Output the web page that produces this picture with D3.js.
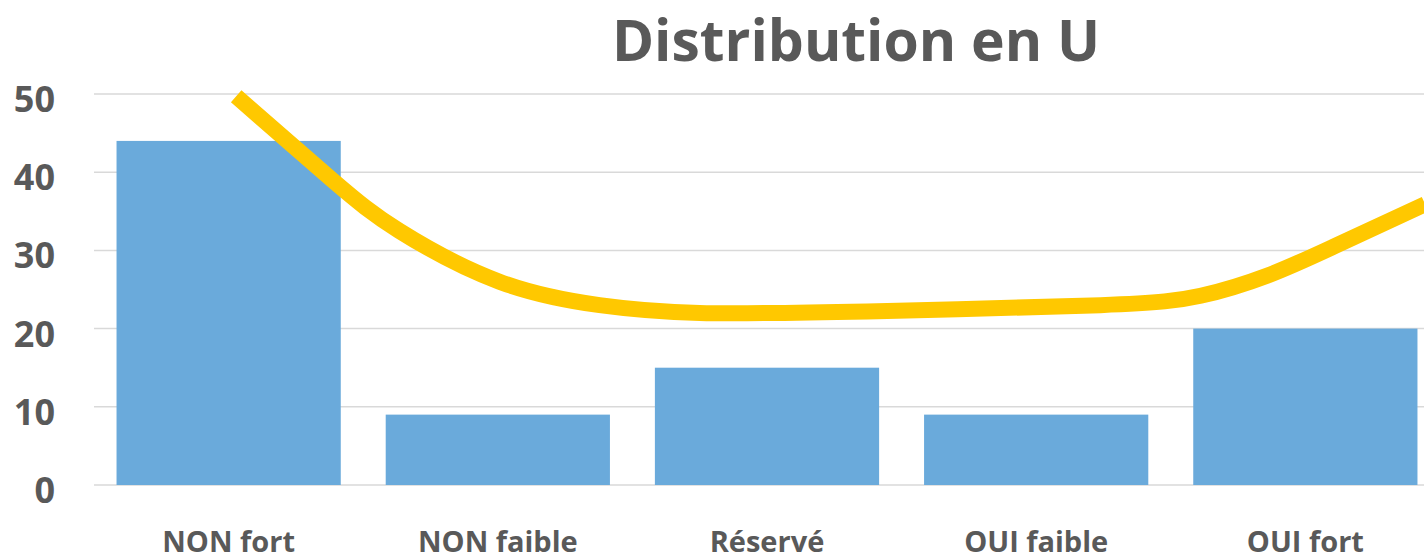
<!DOCTYPE html>
<html>
<head>
<meta charset="utf-8">
<script src="https://cdn.jsdelivr.net/npm/d3@7"></script>
<style>
	body { margin: 0; background: #fff; }
	svg { display: block; font-family: "Open Sans", "Noto Sans", sans-serif; font-weight: 700; }
</style>
</head>
<body>
<svg width="1424" height="560"></svg>
<script>
var categories = ["NON fort", "NON faible", "Réservé", "OUI faible", "OUI fort"];
var values = [44, 9, 15, 9, 20];
var yTicks = [0, 10, 20, 30, 40, 50];

// hand drawn "U" curve: position in category units (0 = first bar centre) and value
var curvePos = [0.028, 0.385, 0.634, 1.006, 1.378, 1.75, 2.372, 3.239, 3.611, 3.860, 4.106, 4.445];
var curveVal = [49.7, 39.0, 32.5, 26.0, 23.0, 22.0, 22.2, 23.0, 24.2, 26.8, 30.5, 35.9];

var svg = d3.select("svg"),
	width = +svg.attr("width"),
	height = +svg.attr("height");

var plotLeft = 94, plotRight = 1440, plotTop = 94, plotBottom = 485;

var x = d3.scaleBand()
	.domain(categories)
	.range([plotLeft, plotRight])
	.paddingInner(0.167)
	.paddingOuter(0.0837);

var y = d3.scaleLinear()
	.domain([0, 50])
	.range([plotBottom, plotTop]);

var xPos = d3.scaleLinear()
	.domain([0, categories.length - 1])
	.range([x(categories[0]) + x.bandwidth() / 2, x(categories[categories.length - 1]) + x.bandwidth() / 2]);

// gridlines
svg.append("g")
	.selectAll("line")
	.data(yTicks)
	.enter().append("line")
	.attr("x1", plotLeft)
	.attr("x2", width)
	.attr("y1", function(d){ return y(d); })
	.attr("y2", function(d){ return y(d); })
	.style("stroke", "#d9d9d9")
	.style("stroke-width", 1.5);

// y labels
svg.append("g")
	.selectAll("text")
	.data(yTicks)
	.enter().append("text")
	.attr("x", 55)
	.attr("y", function(d){ return y(d) + 18; })
	.attr("text-anchor", "end")
	.style("font-size", "36px")
	.style("fill", "#595959")
	.text(function(d){ return d; });

// bars
svg.append("g")
	.selectAll("rect")
	.data(values)
	.enter().append("rect")
	.attr("x", function(d, i){ return x(categories[i]); })
	.attr("y", function(d){ return y(d); })
	.attr("width", x.bandwidth())
	.attr("height", function(d){ return y(0) - y(d); })
	.style("fill", "#6aaadb");

// x labels
svg.append("g")
	.selectAll("text")
	.data(categories)
	.enter().append("text")
	.attr("x", function(d){ return x(d) + x.bandwidth() / 2; })
	.attr("y", 552)
	.attr("text-anchor", "middle")
	.style("font-size", "29px")
	.style("fill", "#595959")
	.text(function(d){ return d; });

// the U curve
var line = d3.line()
	.x(function(d, i){ return xPos(curvePos[i]); })
	.y(function(d){ return y(d); })
	.curve(d3.curveNatural);

svg.append("path")
	.datum(curveVal)
	.attr("d", line)
	.style("fill", "none")
	.style("stroke", "#ffc800")
	.style("stroke-width", 16);

// title
svg.append("text")
	.attr("x", 856)
	.attr("y", 61)
	.attr("text-anchor", "middle")
	.style("font-size", "57px")
	.style("fill", "#595959")
	.text("Distribution en U");
</script>
</body>
</html>
